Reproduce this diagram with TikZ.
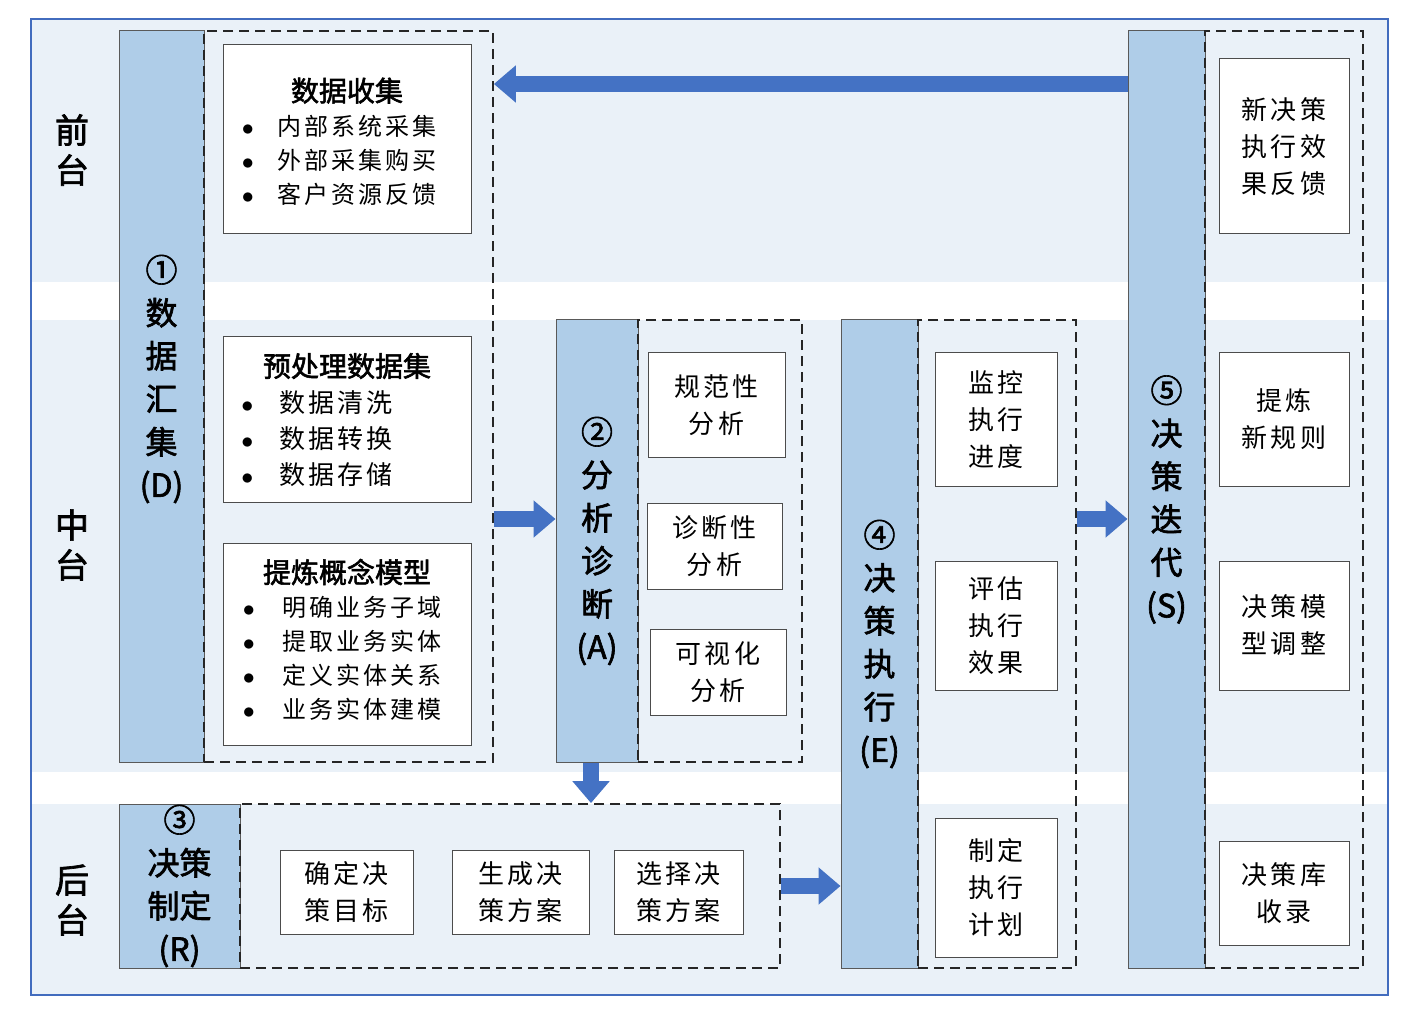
\documentclass[tikz,border=0pt]{standalone}
\usepackage{fontspec}
\usepackage{xcolor}
\usepackage{tikz}
\usetikzlibrary{positioning,arrows.meta}
\setmainfont{Noto Sans CJK SC}
\newfontfamily\cjk{Noto Sans CJK SC}
\newfontfamily\cjkwide[LetterSpace=12]{Noto Sans CJK SC}
\newfontfamily\cjkbold[FakeBold=2]{Noto Sans CJK SC}
\definecolor{bandblue}{RGB}{234,241,248}
\definecolor{stageblue}{RGB}{175,205,232}
\definecolor{flowblue}{RGB}{68,114,196}
\definecolor{frameblue}{RGB}{66,108,190}
\tikzset{
  % --- layers (front / middle / back office) ---------------------------------
  layerband/.style={fill=bandblue,draw=none},
  layerframe/.style={draw=frameblue,line width=1.1pt},
  layerlab/.style={font=\cjkbold\fontsize{17}{20}\selectfont,align=center,
                   inner sep=0pt},
  % box size given in picture units (px of the layout), so 1 unit = 0.5pt
  boxsize/.style 2 args={minimum width=#1*0.5pt,minimum height=#2*0.5pt},
  % --- stage columns and their dashed groups ---------------------------------
  stage/.style={rectangle,draw=black!65,fill=stageblue,inner sep=0pt,
                line width=0.5pt,align=center,
                font=\cjkbold\fontsize{16}{21.5}\selectfont},
  stagetext/.style={inner sep=0pt,align=center,
                    font=\cjkbold\fontsize{16}{21.5}\selectfont},
  stagegroup/.style={rectangle,draw=black!85,dash pattern=on 5pt off 3pt,
                     line width=0.9pt,inner sep=0pt},
  % --- content boxes -----------------------------------------------------------
  item/.style={rectangle,draw=black!70,fill=white,inner sep=0pt,
               line width=0.5pt,align=center,
               font=\cjkwide\fontsize{13}{18.5}\selectfont},
  listbox/.style={item,font=\cjkwide\fontsize{12}{17}\selectfont},
  % --- flow arrows -------------------------------------------------------------
  flowarrow/.style={draw=flowblue,line width=8pt,
                    -{Triangle[length=11pt,width=18pt]}},
}
\newcommand{\ltitle}[1]{\multicolumn{2}{@{}c@{}}{\cjkbold\fontsize{14}{17}\selectfont #1}}
\newcommand{\bul}{$\bullet$}

\begin{document}
\begin{tikzpicture}[x=0.5pt, y=-0.5pt]
  \useasboundingbox (0,0) rectangle (1423,1021);

  % layer bands and outer frame
  \fill[layerband] (31,19)  rectangle (1388,282);
  \fill[layerband] (31,320) rectangle (1388,772);
  \fill[layerband] (31,804) rectangle (1388,995);
  \draw[layerframe] (31,19) rectangle (1388,995);

  \node[layerlab] (labFront) at (72,150) {前\\台};
  \node[layerlab] (labMid)   at (72,545) {中\\台};
  \node[layerlab] (labBack)  at (72,900) {后\\台};

  % stage columns
  \node[stage,boxsize={85}{731}]  (colD) at (161.5,396.5) {};
  \node[stagetext] (colDtext) at (161.5,379) {①\\数\\据\\汇\\集\\(D)};
  \node[stage,boxsize={82}{442}]  (colA) at (597,541)     {②\\分\\析\\诊\\断\\(A)};
  \node[stage,boxsize={121}{164}] (colR) at (179.5,886)   {③\\决策\\制定\\(R)};
  \node[stage,boxsize={77}{648}]  (colE) at (879.5,644)   {④\\决\\策\\执\\行\\(E)};
  \node[stage,boxsize={77}{937}]  (colS) at (1166.5,499.5) {⑤\\决\\策\\迭\\代\\(S)};

  \node[stagegroup,boxsize={289}{731}] (grpD) at (348.5,396.5) {};
  \node[stagegroup,boxsize={164}{442}] (grpA) at (720,541)     {};
  \node[stagegroup,boxsize={540}{164}] (grpR) at (510,886)     {};
  \node[stagegroup,boxsize={158}{648}] (grpE) at (997,644)     {};
  \node[stagegroup,boxsize={158}{937}] (grpS) at (1284,499.5)  {};

  % (D) data gathering
  \node[listbox,boxsize={248}{189}] (collect) at (347,139.5) {%
    \begin{tabular}{@{}l@{\hspace{12pt}}l@{\hspace{8pt}}}
      \noalign{\vskip 6pt}
      \ltitle{数据收集}\\
      \bul & 内部系统采集\\
      \bul & 外部采集购买\\
      \bul & 客户资源反馈
    \end{tabular}};
  \node[listbox,font=\cjkwide\fontsize{13}{18}\selectfont,
        boxsize={248}{165}] (prep) at (347,419.5) {%
    \begin{tabular}{@{}l@{\hspace{13pt}}l@{\hspace{30pt}}}
      \noalign{\vskip 4pt}
      \ltitle{预处理数据集}\\
      \bul & 数据清洗\\
      \bul & 数据转换\\
      \bul & 数据存储
    \end{tabular}};
  \node[listbox,boxsize={248}{202}] (model) at (347,644) {%
    \begin{tabular}{@{}l@{\hspace{14pt}}l@{\hspace{5pt}}}
      \ltitle{提炼概念模型}\\
      \bul & 明确业务子域\\
      \bul & 提取业务实体\\
      \bul & 定义实体关系\\
      \bul & 业务实体建模
    \end{tabular}};

  % (A) analysis
  \node[item,boxsize={137}{104}] (norm) at (716.5,405) {规范性\\分析};
  \node[item,boxsize={135}{86}]  (diag) at (714.5,546) {诊断性\\分析};
  \node[item,boxsize={136}{86}]  (visu) at (718,672)   {可视化\\分析};

  % (R) decision making
  \node[item,boxsize={133}{84}] (goal) at (346.5,892) {确定决\\策目标};
  \node[item,boxsize={137}{84}] (gen)  at (520.5,892) {生成决\\策方案};
  \node[item,boxsize={129}{84}] (pick) at (678.5,892) {选择决\\策方案};

  % (E) execution
  \node[item,boxsize={122}{133}] (monitor) at (996,419.5) {监控\\执行\\进度};
  \node[item,boxsize={122}{129}] (assess)  at (996,625.5) {评估\\执行\\效果};
  \node[item,boxsize={122}{139}] (plan)    at (996,887.5) {制定\\执行\\计划};

  % (S) iteration
  \node[item,boxsize={130}{175}] (feedback) at (1284,146.5) {新决策\\执行效\\果反馈};
  \node[item,boxsize={130}{133}] (rules)    at (1284,419.5) {提炼\\新规则};
  \node[item,boxsize={130}{129}] (tune)     at (1284,625.5) {决策模\\型调整};
  \node[item,boxsize={130}{104}] (store)    at (1284,893)   {决策库\\收录};

  % flow between stages
  \coordinate (toprow) at (0,84);
  \coordinate (midrow) at (0,519);
  \draw[flowarrow] (grpD.east |- midrow) -- (colA.west |- midrow);
  \draw[flowarrow] (colA.south -| 591,0) -- (grpR.north -| 591,0);
  \draw[flowarrow] (grpR.east) -- (colE.west |- grpR.east);
  \draw[flowarrow] (grpE.east |- midrow) -- (colS.west |- midrow);
  \draw[flowarrow] (colS.west |- toprow) -- (grpD.east |- toprow);
\end{tikzpicture}
\end{document}
